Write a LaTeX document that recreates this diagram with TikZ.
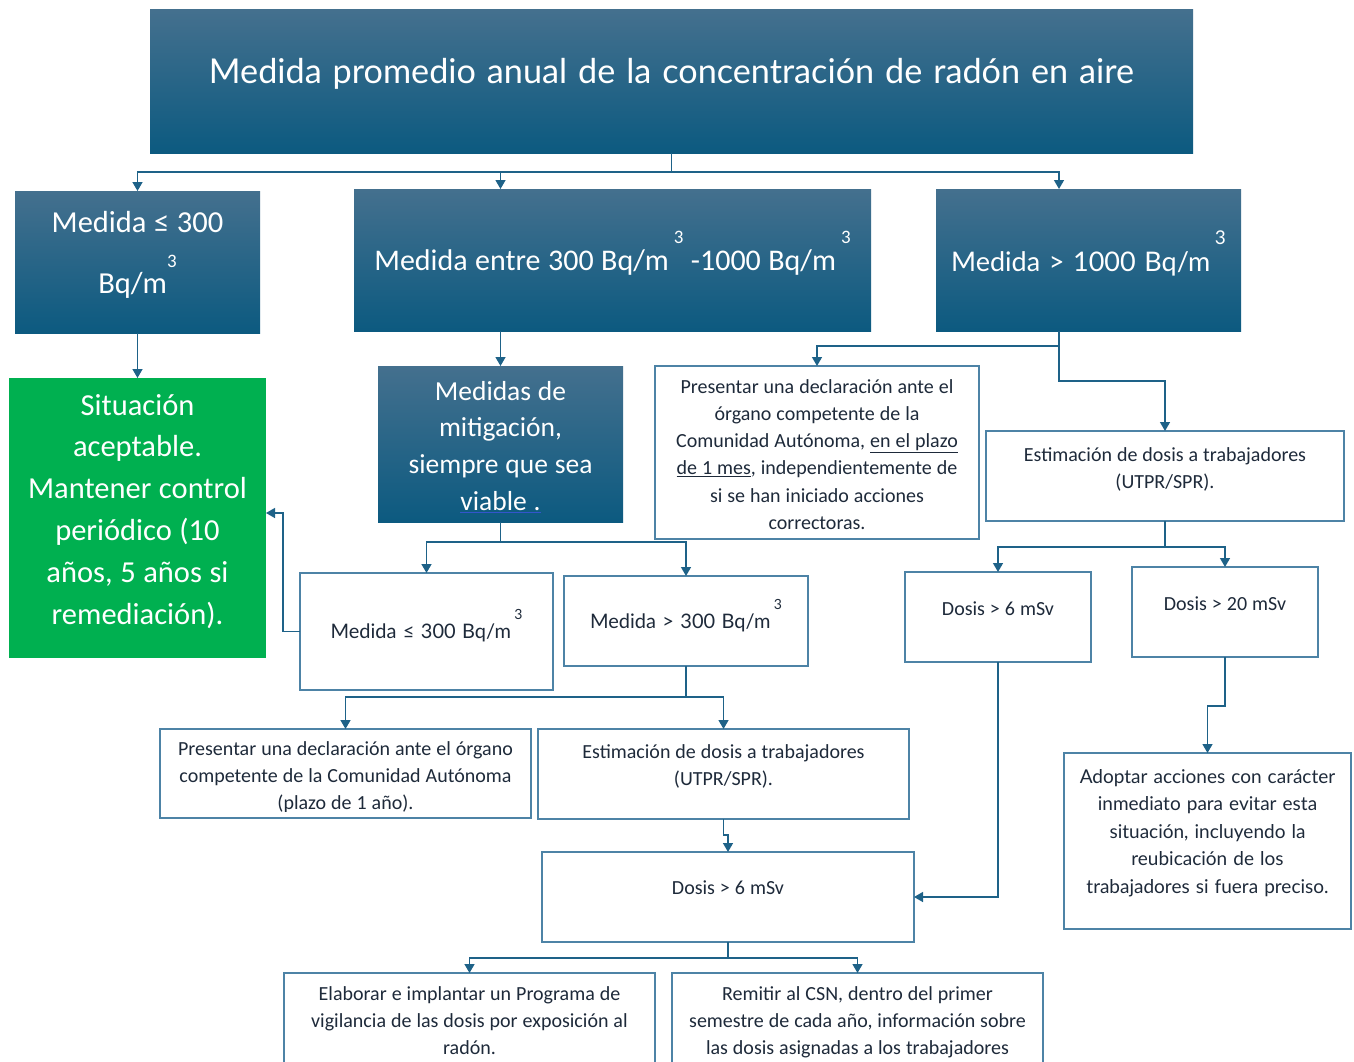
\documentclass[tikz,border=0pt]{standalone}
\usepackage{fontspec}
\setmainfont{Carlito}[WordSpace=1.1]
\newfontfamily\wide{Lato}[WordSpace=1.25]
\usetikzlibrary{arrows.meta,calc}
\definecolor{bTop}{HTML}{44708E}
\definecolor{bBot}{HTML}{0C5A80}
\definecolor{gr}{HTML}{00B050}
\definecolor{ln}{HTML}{1E6288}
\definecolor{bd}{HTML}{4D83A6}
\definecolor{tx}{HTML}{1E2A3A}
\definecolor{ulc}{HTML}{3355CC}
\newcommand\sqr[2]{\raisebox{#1pt}{\fontsize{#2}{#2}\selectfont 3}}
\newcommand\fs[2]{\fontsize{#1}{#2}\selectfont}
\newcommand\mkbox[6]{\node[#6, minimum width={(#4)-(#2)}, minimum height={(#5)-(#3)}] (#1) at ({((#2)+(#4))/2},{((#3)+(#5))/2}) {};}
\begin{document}
\begin{tikzpicture}[x=1pt,y=-1pt,
  dk/.style={draw=none, top color=bTop, bottom color=bBot, inner sep=0pt, outer sep=0pt},
  wb/.style={draw=bd, line width=1.2pt, fill=white, inner sep=0pt, outer sep=0pt},
  gb/.style={draw=none, fill=gr, inner sep=0pt, outer sep=0pt},
  conn/.style={draw=ln, line width=1.4pt},
  arr/.style={conn, -{Triangle[width=10pt,length=9pt]}},
  lbl/.style={align=flush center, inner sep=0pt, anchor=base, text width=#1},
  lbl/.default=400pt,
  wt/.style={text=white},
  dt/.style={text=tx},
]
\useasboundingbox[fill=white] (0,0) rectangle (1354,1062);

% boxes
\mkbox{T}{150}{10}{1193}{153}{dk}
\mkbox{A}{15}{191}{260}{333}{dk}
\mkbox{B}{354}{189}{871}{331}{dk}
\mkbox{C}{936}{189}{1241}{331}{dk}
\mkbox{G}{9}{378}{266}{658}{gb}
\mkbox{Mi}{378}{366}{623}{522}{dk}
\mkbox{P1}{655}{366}{979}{539}{wb}
\mkbox{ER}{986}{431}{1344}{521}{wb}
\mkbox{Ms}{300}{573}{553}{690}{wb}
\mkbox{Mb}{564}{576}{808}{666}{wb}
\mkbox{D6}{905}{572}{1091}{662}{wb}
\mkbox{D20}{1132}{567}{1318}{657}{wb}
\mkbox{Pa}{160}{729}{531}{818}{wb}
\mkbox{EM}{538}{729}{909}{819}{wb}
\mkbox{DM}{542}{852}{914}{942}{wb}
\mkbox{Ad}{1064}{753}{1351}{929}{wb}
\mkbox{El}{284}{973}{655}{1110}{wb}
\mkbox{Re}{672}{973}{1043}{1110}{wb}

% texts
\node[lbl=1040pt, wt, font=\wide\fs{34.2}{40}] (Tt) at (T.center |- 0,84) {Medida promedio anual de la concentración de radón en aire};
\node[lbl=240pt, wt, font=\fs{30.5}{61}] (At) at (A.center |- 0,232) {Medida ≤ 300\\Bq/m\sqr{26}{19}};
\node[lbl=510pt, wt, font=\fs{30}{36}] (Bt) at (B.center |- 0,270) {Medida entre 300 Bq/m\,\sqr{27}{19}\ -1000 Bq/m\,\sqr{27}{19}};
\node[lbl=300pt, wt, font=\wide\fs{27}{34}] (Ct) at (C.center |- 0,271) {Medida > 1000 Bq/m\,\sqr{27}{19}};
\node[lbl=255pt, wt, font=\fs{30.5}{41.8}] (Gt) at (G.center |- 0,415) {Situación\\aceptable.\\Mantener control\\periódico (10\\años, 5 años si\\remediación).};
\node[lbl=240pt, wt, font=\fs{27.5}{36.8}] (Mit) at (Mi.center |- 0,400) {Medidas de\\mitigación,\\siempre que sea\\{\color{ulc}\underline{\textcolor{white}{viable .}}}};
\node[lbl=330pt, dt, font=\fs{20}{27.3}] (P1t) at (P1.center |- 0,393) {Presentar una declaración ante el\\órgano competente de la\\Comunidad Autónoma, \underline{en el plazo}\\\underline{de 1 mes}, independientemente de\\si se han iniciado acciones\\correctoras.};
\node[lbl=355pt, dt, font=\fs{20}{27}] (ERt) at (ER.center |- 0,461) {Estimación de dosis a trabajadores\\(UTPR/SPR).};
\node[lbl=250pt, dt, font=\wide\fs{20}{24}] (Mst) at (Ms.center |- 0,638) {Medida ≤ 300 Bq/m\,\sqr{19}{14}};
\node[lbl=240pt, dt, font=\wide\fs{20}{24}] (Mbt) at (Mb.center |- 0,628) {Medida > 300 Bq/m\,\sqr{19}{14}};
\node[lbl=180pt, dt, font=\fs{20}{24}] (D6t) at (D6.center |- 0,615) {Dosis > 6 mSv};
\node[lbl=180pt, dt, font=\fs{20}{24}] (D20t) at (D20.center |- 0,610) {Dosis > 20 mSv};
\begin{scope}
\clip (160,729) rectangle (531,811);
\node[lbl=370pt, dt, font=\fs{20}{27}] (Pat) at (Pa.center |- 0,755) {Presentar una declaración ante el órgano\\competente de la Comunidad Autónoma\\(plazo de 1 año).};
\end{scope}
\node[lbl=370pt, dt, font=\fs{20}{27}] (EMt) at (EM.center |- 0,758) {Estimación de dosis a trabajadores\\(UTPR/SPR).};
\node[lbl=370pt, dt, font=\fs{20}{24}] (DMt) at (DM.center |- 0,894) {Dosis > 6 mSv};
\node[lbl=285pt, dt, font=\wide\fs{19}{27.5}] (Adt) at (Ad.center |- 0,783) {Adoptar acciones con carácter\\inmediato para evitar esta\\situación, incluyendo la\\reubicación de los\\trabajadores si fuera preciso.};
\node[lbl=370pt, dt, font=\fs{20}{27}] (Elt) at (El.center |- 0,1000) {Elaborar e implantar un Programa de\\vigilancia de las dosis por exposición al\\radón.};
\node[lbl=370pt, dt, font=\fs{20}{27}] (Ret) at (Re.center |- 0,1000) {Remitir al CSN, dentro del primer\\semestre de cada año, información sobre\\las dosis asignadas a los trabajadores};

% connectors
\coordinate (j1) at (671.5,172);
\coordinate (cx) at (1059,0);
\draw[conn] (T.south) -- (j1);
\draw[arr] (j1) -| (A.north);
\draw[arr] (j1) -| (B.north -| Mi.north);
\draw[arr] (j1) -| (C.north -| cx);
\draw[arr] (A.south) -- (G.north);
\draw[arr] (B.south -| Mi.north) -- (Mi.north);
\coordinate (c1) at (1059,346);
\coordinate (c2) at (1059,381);
\draw[conn] (C.south -| cx) -- (c1);
\draw[arr] (c1) -| (P1.north);
\draw[arr] (c1) -- (c2) -| (ER.north);
\coordinate (m1) at (500.5,542);
\draw[conn] (Mi.south) -- (m1);
\draw[arr] (m1) -| (Ms.north);
\draw[arr] (m1) -| (Mb.north);
\coordinate (g1) at (283,513);
\draw[arr] (Ms.west) -| (g1) -- (g1 -| G.east);
\coordinate (b1) at (686,697);
\draw[conn] (Mb.south) -- (b1);
\draw[arr] (b1) -| (Pa.north);
\draw[arr] (b1) -| (EM.north);
\draw[arr] (EM.south) -- ++(0,16) -| (DM.north);
\draw[arr] (D6.south) |- (DM.east);
\coordinate (e1) at (1165,547);
\draw[conn] (ER.south) -- (e1);
\draw[arr] (e1) -| (D6.north);
\draw[arr] (e1) -| (D20.north);
\draw[arr] (D20.south) -- ++(0,49) -| (Ad.north);
\coordinate (d1) at (728,958);
\draw[conn] (DM.south) -- (d1);
\draw[arr] (d1) -| (El.north);
\draw[arr] (d1) -| (Re.north);
\end{tikzpicture}
\end{document}
